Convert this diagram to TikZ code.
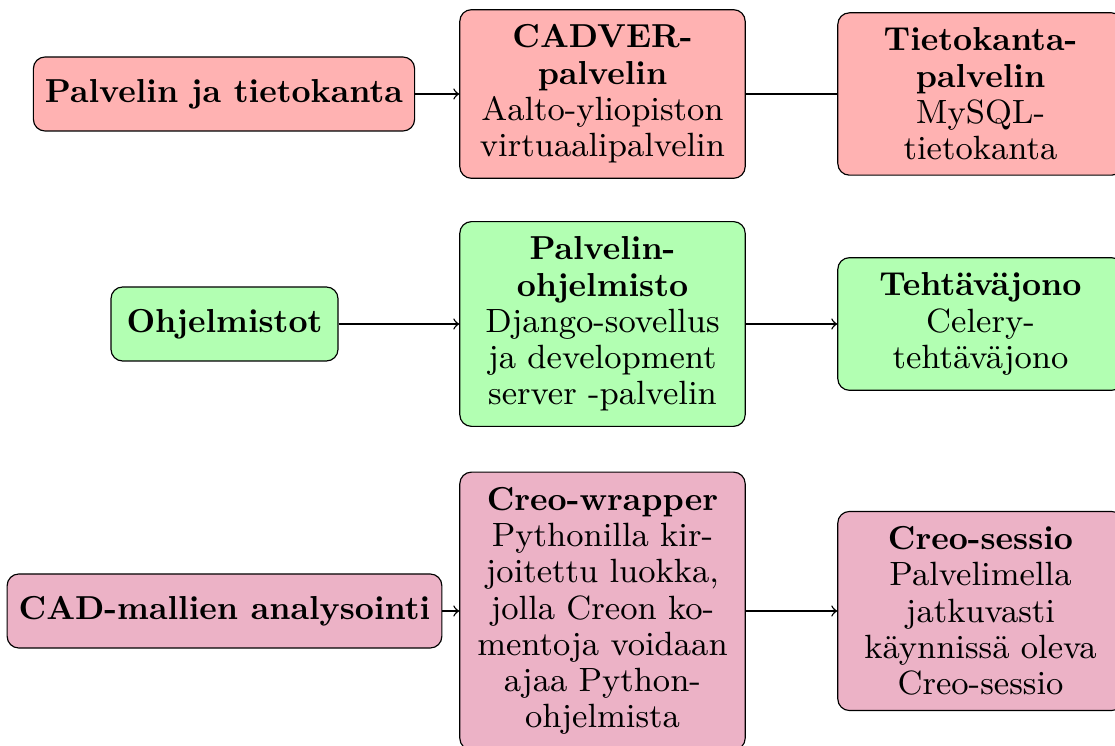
\documentclass[tikz,border=0pt]{standalone}
\usetikzlibrary{arrows}
\font\nrm="[lmroman9-regular.otf]" at 11.6pt
\font\nbf="[lmroman10-bold.otf]" at 11.45pt
\newcommand\boxfont{\nrm\baselineskip=12.5pt\relax}
\tikzset{
  base/.style={draw=black, rounded corners=4pt, align=center, inner xsep=5.2pt, inner ysep=5.2pt, font=\boxfont},
  cat/.style={base, inner xsep=4pt, minimum height={74*0.3448pt}},
  wide/.style={base, text width=88pt},
  redbox/.style={fill=red!30},
  greenbox/.style={fill=green!30},
  purplebox/.style={fill=purple!30},
  conn/.style={->, line width=0.5pt},
  plain/.style={line width=0.5pt}
}
\begin{document}
\begin{tikzpicture}[x=0.3448pt, y=-0.3448pt]
\useasboundingbox (0,0) rectangle (1115,746);
% row 1
\node[cat, redbox] (a1) at (224,94) {{\nbf Palvelin ja tietokanta}};
\node[wide, redbox] (b1) at (602.5,94) {{\nbf CADVER-}\\{\nbf palvelin}\\Aalto-yliopiston\\virtuaalipalvelin};
\node[wide, redbox] (c1) at (980.5,94) {{\nbf Tietokanta-}\\{\nbf palvelin}\\MySQL-\\tietokanta};
\draw[conn] (a1) -- (b1);
\draw[plain] (b1) -- (c1);
% row 2
\node[cat, greenbox, minimum width={227*0.3448pt}] (a2) at (224.5,324) {{\nbf Ohjelmistot}};
\node[wide, greenbox] (b2) at (602.5,324) {{\nbf Palvelin-}\\{\nbf ohjelmisto}\\Django-sovellus\\ja development\\server -palvelin};
\node[wide, greenbox] (c2) at (980.5,324) {{\nbf Tehtäväjono}\\Celery-\\tehtäväjono};
\draw[conn] (a2) -- (b2);
\draw[conn] (b2) -- (c2);
% row 3
\node[cat, purplebox] (a3) at (224.5,611) {{\nbf CAD-mallien analysointi}};
\node[wide, purplebox] (b3) at (602.5,611) {{\nbf Creo-wrapper}\\Pythonilla kir-\\joitettu luokka,\\jolla Creon ko-\\mentoja voidaan\\ajaa Python-\\ohjelmista};
\node[wide, purplebox] (c3) at (980.5,611) {{\nbf Creo-sessio}\\Palvelimella\\jatkuvasti\\käynnissä oleva\\Creo-sessio};
\draw[conn] (a3) -- (b3);
\draw[conn] (b3) -- (c3);
\end{tikzpicture}
\end{document}
